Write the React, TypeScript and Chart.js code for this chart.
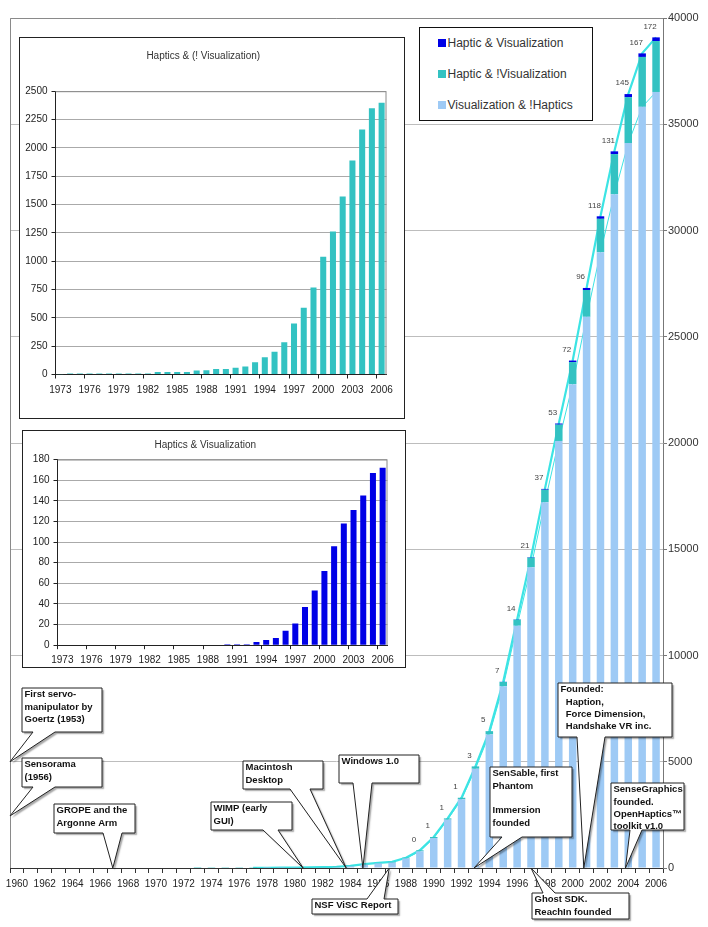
import React, { useEffect, useRef } from 'react';
import { Chart, registerables } from 'chart.js';

Chart.register(...registerables);

const FONT = '"Liberation Sans", Arial, Helvetica, sans-serif';
Chart.defaults.font.family = FONT;

// ---------- main chart data (1960 - 2006) ----------
const YEARS = [
  '1960', '1961', '1962', '1963', '1964', '1965', '1966', '1967', '1968', '1969',
  '1970', '1971', '1972', '1973', '1974', '1975', '1976', '1977', '1978', '1979',
  '1980', '1981', '1982', '1983', '1984', '1985', '1986', '1987', '1988', '1989',
  '1990', '1991', '1992', '1993', '1994', '1995', '1996', '1997', '1998', '1999',
  '2000', '2001', '2002', '2003', '2004', '2005', '2006',
];

const VIS_NO_HAP = [
  0, 0, 0, 0, 0, 0, 0, 0, 0, 0,
  0, 0, 0, 0, 0, 0, 0, 0, 2, 7,
  12, 22, 30, 38, 78, 158, 218, 255, 450, 785,
  1410, 2276, 3236, 4671, 6286, 8556, 11401, 14157, 17215, 20096,
  22770, 25938, 28980, 31706, 34113, 35818, 36519,
];

const HAP_NO_VIS = [
  0, 0, 0, 0, 0, 0, 0, 0, 0, 0,
  0, 0, 0, 3, 8, 8, 8, 8, 8, 8,
  8, 8, 8, 22, 22, 22, 22, 35, 38, 48,
  48, 59, 70, 109, 153, 200, 285, 450, 588, 768,
  1038, 1262, 1570, 1888, 2162, 2350, 2397,
];

const HAP_VIS = [
  0, 0, 0, 0, 0, 0, 0, 0, 0, 0,
  0, 0, 0, 0, 0, 0, 0, 0, 0, 0,
  0, 0, 0, 0, 0, 0, 0, 0, 0, 0,
  1, 1, 1, 3, 5, 7, 14, 21, 37, 53,
  72, 96, 118, 131, 145, 167, 172,
];

const TOTAL_LINE: (number | null)[] = [
  null, null, null, null, null, null, null, null, null, null,
  null, null, null, null, null, null, null, 5, 12, 15,
  20, 30, 40, 60, 100, 180, 240, 290, 485, 832,
  1458, 2336, 3307, 4783, 6444, 8763, 11700, 14628, 17840, 20917,
  23880, 27296, 30668, 33725, 36420, 38335, 39088,
];

const LABEL_FROM_YEAR = 1989;

const Y_TICKS_MAX = 40000;
const Y_TICK_STEP = 5000;

// ---------- inset data (1973 - 2006) ----------
const INSET_YEARS = [
  '1973', '1974', '1975', '1976', '1977', '1978', '1979', '1980', '1981', '1982',
  '1983', '1984', '1985', '1986', '1987', '1988', '1989', '1990', '1991', '1992',
  '1993', '1994', '1995', '1996', '1997', '1998', '1999', '2000', '2001', '2002',
  '2003', '2004', '2005', '2006',
];

const INSET_HAP_NO_VIS = [
  3, 8, 8, 8, 8, 8, 8, 8, 8, 8,
  22, 22, 22, 22, 35, 38, 48, 48, 59, 70,
  109, 153, 200, 285, 450, 588, 768, 1038, 1262, 1570,
  1888, 2162, 2350, 2397,
];

const INSET_HAP_VIS = [
  0, 0, 0, 0, 0, 0, 0, 0, 0, 0,
  0, 0, 0, 0, 0, 0, 0, 1, 1, 1,
  3, 5, 7, 14, 21, 37, 53, 72, 96, 118,
  131, 145, 167, 172,
];

const SERIES_NAMES = ['Haptic & Visualization', 'Haptic & !Visualization', 'Visualization & !Haptics'];
const COLORS = { hv: '#0000E6', hnv: '#33C2C2', vnh: '#9ECAF5', line: '#3CE4E4' };

// ---------- callouts (layout only) ----------
type Callout = {
  lines: string[];
  box: [number, number, number, number];
  side: 'top' | 'bottom';
  base: [number, number];
  tipYear?: number;
  tipLeftValue?: number;
};

const CALLOUTS: Callout[] = [
  { lines: ['First servo-', 'manipulator by', 'Goertz (1953)'], box: [22, 688, 80, 44], side: 'bottom', base: [33, 55], tipLeftValue: 5000 },
  { lines: ['Sensorama', '(1956)'], box: [22, 758, 80, 29], side: 'bottom', base: [33, 55], tipLeftValue: 2450 },
  { lines: ['GROPE and the', 'Argonne Arm'], box: [54, 804, 81, 29], side: 'bottom', base: [103, 122], tipYear: 1966.9 },
  { lines: ['WIMP (early', 'GUI)'], box: [211, 802, 81, 28], side: 'bottom', base: [263, 278], tipYear: 1980.6 },
  { lines: ['Macintosh', 'Desktop'], box: [243, 761, 80, 28], side: 'bottom', base: [290, 310], tipYear: 1983.7 },
  { lines: ['Windows 1.0'], box: [339, 755, 80, 28], side: 'bottom', base: [353, 372], tipYear: 1984.9 },
  { lines: ['NSF ViSC Report'], box: [312, 899, 86, 15], side: 'top', base: [367, 384], tipYear: 1986.8 },
  { lines: ['SenSable, first', 'Phantom', '', 'Immersion', 'founded'], box: [490, 767, 82, 70], side: 'bottom', base: [502, 522], tipYear: 1992.9 },
  { lines: ['Ghost SDK.', 'ReachIn founded'], box: [532, 893, 97, 26], side: 'top', base: [543, 555], tipYear: 1997.0 },
  { lines: ['Founded:', '  Haption,', '  Force Dimension,', '  Handshake VR inc.'], box: [558, 683, 114, 54], side: 'bottom', base: [577, 605], tipYear: 2000.8 },
  { lines: ['SenseGraphics', 'founded.', 'OpenHaptics\u2122', 'toolkit v1.0'], box: [611, 783, 73, 47], side: 'bottom', base: [630, 642], tipYear: 2003.8 },
];

function calloutPath(ctx: CanvasRenderingContext2D, c: Callout, tx: number, ty: number) {
  const [x, y, w, h] = c.box;
  ctx.beginPath();
  if (c.side === 'bottom') {
    ctx.moveTo(x, y);
    ctx.lineTo(x + w, y);
    ctx.lineTo(x + w, y + h);
    ctx.lineTo(c.base[1], y + h);
    ctx.lineTo(tx, ty);
    ctx.lineTo(c.base[0], y + h);
    ctx.lineTo(x, y + h);
  } else {
    ctx.moveTo(x, y);
    ctx.lineTo(c.base[0], y);
    ctx.lineTo(tx, ty);
    ctx.lineTo(c.base[1], y);
    ctx.lineTo(x + w, y);
    ctx.lineTo(x + w, y + h);
    ctx.lineTo(x, y + h);
  }
  ctx.closePath();
}

const mainPlugin = {
  id: 'mainExtras',
  beforeDatasetsDraw(chart: any) {
    const { ctx, chartArea } = chart;
    ctx.save();
    ctx.strokeStyle = '#8a8a8a';
    ctx.lineWidth = 1;
    ctx.beginPath();
    ctx.moveTo(chartArea.left + 0.5, chartArea.bottom);
    ctx.lineTo(chartArea.left + 0.5, chartArea.top + 0.5);
    ctx.lineTo(chartArea.right, chartArea.top + 0.5);
    ctx.stroke();
    ctx.restore();
  },
  afterDatasetsDraw(chart: any) {
    const { ctx } = chart;
    const meta = chart.getDatasetMeta(2);
    ctx.save();
    ctx.font = `8px ${FONT}`;
    ctx.fillStyle = '#444';
    ctx.textAlign = 'center';
    ctx.textBaseline = 'middle';
    meta.data.forEach((el: any, i: number) => {
      if (Number(YEARS[i]) < LABEL_FROM_YEAR) return;
      const p = el.getProps(['x', 'y'], true);
      ctx.fillText(String(HAP_VIS[i]), p.x - 6, p.y - 11);
    });
    ctx.restore();
  },
  afterDraw(chart: any) {
    const { ctx, chartArea } = chart;
    const xs = chart.scales.x;
    const ys = chart.scales.y;
    ctx.save();
    CALLOUTS.forEach((c) => {
      let tx: number;
      let ty: number;
      if (c.tipYear !== undefined) {
        tx = xs.getPixelForValue(c.tipYear - Number(YEARS[0]));
        ty = ys.getPixelForValue(0);
      } else {
        tx = chartArea.left;
        ty = ys.getPixelForValue(c.tipLeftValue);
      }
      calloutPath(ctx, c, tx, ty);
      ctx.shadowColor = 'rgba(0,0,0,0.35)';
      ctx.shadowOffsetX = 2;
      ctx.shadowOffsetY = 2;
      ctx.shadowBlur = 1.5;
      ctx.fillStyle = '#ffffff';
      ctx.fill();
      ctx.shadowColor = 'transparent';
      ctx.shadowOffsetX = 0;
      ctx.shadowOffsetY = 0;
      ctx.shadowBlur = 0;
      ctx.strokeStyle = '#222';
      ctx.lineWidth = 1;
      ctx.stroke();
      ctx.fillStyle = '#111';
      ctx.font = `bold 9.5px ${FONT}`;
      ctx.textAlign = 'left';
      ctx.textBaseline = 'middle';
      c.lines.forEach((ln, k) => {
        ctx.fillText(ln, c.box[0] + 2.5, c.box[1] + 6.8 + k * 12.3);
      });
    });
    ctx.restore();
  },
};

const insetFrame = {
  id: 'insetFrame',
  beforeDatasetsDraw(chart: any) {
    const { ctx, chartArea } = chart;
    ctx.save();
    ctx.strokeStyle = '#8a8a8a';
    ctx.lineWidth = 1;
    ctx.beginPath();
    ctx.moveTo(chartArea.left, chartArea.top + 0.5);
    ctx.lineTo(chartArea.right - 0.5, chartArea.top + 0.5);
    ctx.lineTo(chartArea.right - 0.5, chartArea.bottom);
    ctx.stroke();
    ctx.restore();
  },
};

const plainNumber = (v: any) => String(v);

function makeInset(
  canvas: HTMLCanvasElement,
  title: string,
  values: number[],
  color: string,
  yMax: number,
  step: number,
  layoutCfg: { right: number; titleTop: number; titleBottom: number; xHeight: number; yWidth: number; xPad: number }
) {
  return new Chart(canvas, {
    type: 'bar',
    data: {
      labels: INSET_YEARS,
      datasets: [
        { data: values, backgroundColor: color, barPercentage: 0.62, categoryPercentage: 1, borderWidth: 0 },
      ],
    },
    options: {
      responsive: false,
      animation: false,
      layout: { padding: { left: 0, right: layoutCfg.right, top: 0, bottom: 0 } },
      plugins: {
        legend: { display: false },
        tooltip: { enabled: false },
        title: {
          display: true,
          text: title,
          color: '#333',
          font: { size: 10, weight: 'normal' as any },
          padding: { top: layoutCfg.titleTop, bottom: layoutCfg.titleBottom },
        },
      },
      scales: {
        x: {
          grid: {
            drawOnChartArea: false,
            offset: true,
            tickLength: 4,
            tickColor: (ctx: any) => (ctx.index % 3 === 0 ? '#222' : 'rgba(0,0,0,0)'),
          },
          border: { display: true, color: '#222' },
          ticks: {
            autoSkip: false,
            maxRotation: 0,
            minRotation: 0,
            padding: layoutCfg.xPad,
            color: '#222',
            font: { size: 10 },
            callback: (_v: any, i: number) => (i % 3 === 0 ? INSET_YEARS[i] : ''),
          },
          afterFit: (s: any) => {
            s.height = layoutCfg.xHeight;
          },
        },
        y: {
          min: 0,
          max: yMax,
          ticks: { stepSize: step, color: '#222', font: { size: 10 }, padding: 4, callback: plainNumber },
          grid: { color: '#aaaaaa', tickLength: 4, tickColor: '#222' },
          border: { display: true, color: '#222' },
          afterFit: (s: any) => {
            s.width = layoutCfg.yWidth;
          },
        },
      },
    },
    plugins: [insetFrame],
  });
}

export default function App() {
  const mainRef = useRef<HTMLCanvasElement>(null);
  const in1Ref = useRef<HTMLCanvasElement>(null);
  const in2Ref = useRef<HTMLCanvasElement>(null);

  useEffect(() => {
    const charts: Chart[] = [];
    if (mainRef.current) {
      const barCommon = { stack: 's', barPercentage: 0.54, categoryPercentage: 1, borderWidth: 0, order: 1 };
      charts.push(
        new Chart(mainRef.current, {
          type: 'bar',
          data: {
            labels: YEARS,
            datasets: [
              { ...barCommon, type: 'bar', label: SERIES_NAMES[2], data: VIS_NO_HAP, backgroundColor: COLORS.vnh } as any,
              { ...barCommon, type: 'bar', label: SERIES_NAMES[1], data: HAP_NO_VIS, backgroundColor: COLORS.hnv } as any,
              { ...barCommon, type: 'bar', label: SERIES_NAMES[0], data: HAP_VIS, backgroundColor: COLORS.hv } as any,
              {
                type: 'line',
                label: 'total',
                data: TOTAL_LINE,
                borderColor: COLORS.line,
                borderWidth: 2.2,
                pointRadius: 0,
                tension: 0,
                stack: 'lt',
                order: 2,
              } as any,
              {
                type: 'line',
                label: 'vis',
                data: VIS_NO_HAP.map((v, i) => (Number(YEARS[i]) >= 1988 ? v : null)),
                borderColor: COLORS.line,
                borderWidth: 1,
                pointRadius: 0,
                tension: 0,
                stack: 'lv',
                order: 2,
              } as any,
            ],
          },
          options: {
            responsive: false,
            animation: false,
            layout: { padding: { left: 10, top: 18, right: 0, bottom: 0 } },
            plugins: { legend: { display: false }, tooltip: { enabled: false }, title: { display: false } },
            scales: {
              x: {
                stacked: true,
                grid: { drawOnChartArea: false, offset: true, tickLength: 5, tickColor: '#333' },
                border: { display: true, color: '#333' },
                ticks: {
                  autoSkip: false,
                  maxRotation: 0,
                  minRotation: 0,
                  padding: 5,
                  color: '#222',
                  font: { size: 10 },
                  callback: (_v: any, i: number) => (i % 2 === 0 ? YEARS[i] : ''),
                },
                afterFit: (s: any) => {
                  s.height = 59;
                },
              },
              y: {
                position: 'right',
                stacked: true,
                min: 0,
                max: Y_TICKS_MAX,
                ticks: { stepSize: Y_TICK_STEP, color: '#333', font: { size: 11 }, padding: 1, callback: plainNumber },
                grid: { color: '#bdbdbd', tickLength: 4, tickColor: '#777' },
                border: { display: true, color: '#777' },
                afterFit: (s: any) => {
                  s.width = 45;
                },
              },
            },
          },
          plugins: [mainPlugin],
        })
      );
    }
    if (in1Ref.current) {
      charts.push(
        makeInset(in1Ref.current, 'Haptics & (! Visualization)', INSET_HAP_NO_VIS, COLORS.hnv, 2500, 250, {
          right: 16.5,
          titleTop: 12,
          titleBottom: 29.2,
          xHeight: 42.5,
          yWidth: 35.5,
          xPad: 6,
        })
      );
    }
    if (in2Ref.current) {
      charts.push(
        makeInset(in2Ref.current, 'Haptics & Visualization', INSET_HAP_VIS, COLORS.hv, 180, 20, {
          right: 16.5,
          titleTop: 8.5,
          titleBottom: 8,
          xHeight: 20.8,
          yWidth: 34.5,
          xPad: 5,
        })
      );
    }
    return () => charts.forEach((c) => c.destroy());
  }, []);

  const legendItems = [
    { name: SERIES_NAMES[0], color: COLORS.hv },
    { name: SERIES_NAMES[1], color: COLORS.hnv },
    { name: SERIES_NAMES[2], color: COLORS.vnh },
  ];

  return (
    <div
      style={{
        position: 'absolute',
        left: 0,
        top: 0,
        width: 708,
        height: 927,
        background: '#fff',
        overflow: 'hidden',
        fontFamily: FONT,
      }}
    >
      <canvas ref={mainRef} width={708} height={927} style={{ position: 'absolute', left: 0, top: 0 }} />
      <div
        style={{
          position: 'absolute',
          left: 19,
          top: 37,
          width: 386,
          height: 382,
          border: '1.5px solid #222',
          boxSizing: 'border-box',
          background: '#fff',
        }}
      >
        <canvas ref={in1Ref} width={383} height={379} style={{ display: 'block' }} />
      </div>
      <div
        style={{
          position: 'absolute',
          left: 22,
          top: 430,
          width: 384,
          height: 238,
          border: '1.5px solid #222',
          boxSizing: 'border-box',
          background: '#fff',
        }}
      >
        <canvas ref={in2Ref} width={381} height={235} style={{ display: 'block' }} />
      </div>
      <div
        style={{
          position: 'absolute',
          left: 419,
          top: 27,
          width: 174,
          height: 94,
          border: '1.5px solid #111',
          boxSizing: 'border-box',
          background: '#fff',
        }}
      >
        {legendItems.map((it, k) => (
          <div
            key={it.name}
            style={{
              position: 'absolute',
              left: 17.5,
              top: 14.8 + k * 31.3 - 8,
              height: 16,
              display: 'flex',
              alignItems: 'center',
              whiteSpace: 'nowrap',
            }}
          >
            <span style={{ display: 'inline-block', width: 8, height: 8, background: it.color, marginRight: 2 }} />
            <span style={{ fontSize: 12, color: '#333' }}>{it.name}</span>
          </div>
        ))}
      </div>
    </div>
  );
}
